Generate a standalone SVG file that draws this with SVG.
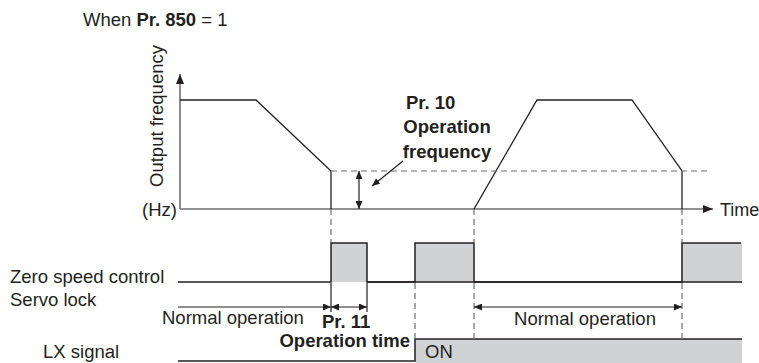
<svg xmlns="http://www.w3.org/2000/svg" width="759" height="363" viewBox="0 0 759 363">
<defs>
<style>
text{font-family:"Liberation Sans",Arial,sans-serif;font-size:18.5px;fill:#231f20}
.b{font-weight:bold}
.ax{stroke:#6d6e70;stroke-width:1.6;fill:none}
.cv{stroke:#231f20;stroke-width:1.3;fill:none}
.ds{stroke:#6d6e70;stroke-width:1.2;stroke-dasharray:6 4;fill:none}
.sg{stroke:#231f20;stroke-width:1.5;fill:none}
.box{fill:#d1d2d4;stroke:none}
.dim{stroke:#231f20;stroke-width:1.2;fill:none}
</style>
<marker id="ah" viewBox="0 0 10 8" refX="10" refY="4" markerWidth="10" markerHeight="8" markerUnits="userSpaceOnUse" orient="auto-start-reverse">
<path d="M0,0 L10,4 L0,8 z" fill="#231f20"/>
</marker>
<marker id="sh" viewBox="0 0 8 7" refX="8" refY="3.5" markerWidth="8" markerHeight="7" markerUnits="userSpaceOnUse" orient="auto-start-reverse">
<path d="M0,0 L8,3.5 L0,7 z" fill="#231f20"/>
</marker>
</defs>

<g id="title"><text x="83" y="26">When <tspan class="b">Pr. 850</tspan> = 1</text></g>

<g id="axes">
<path class="ax" d="M180,209 V74" marker-end="url(#ah)"/>
<path class="ax" d="M180,209 H713" marker-end="url(#ah)"/>
<text transform="translate(163,116) rotate(-90)" text-anchor="middle">Output frequency</text>
<text x="142" y="216">(Hz)</text>
<text x="720" y="216" style="font-size:18px">Time</text>
</g>

<g id="frequency-curve">
<path class="cv" d="M180,100 H256 L331,171 V209"/>
<path class="cv" d="M474,209 L537,100 H632 L682,171 V209"/>
<path class="ds" d="M331,171 H710"/>
</g>

<g id="op-frequency">
<path class="dim" d="M359,171 V209" marker-start="url(#sh)" marker-end="url(#sh)"/>
<path class="dim" d="M403,161 L372,186" marker-end="url(#sh)"/>
<text x="406" y="109" class="b">Pr. 10</text>
<text x="447" y="133" class="b" text-anchor="middle">Operation</text>
<text x="447" y="158" class="b" text-anchor="middle">frequency</text>
</g>

<g id="zero-speed">
<text x="10" y="283">Zero speed control</text>
<text x="10" y="306">Servo lock</text>
<rect class="box" x="331" y="243" width="36" height="39"/>
<rect class="box" x="415" y="243" width="59" height="39"/>
<rect class="box" x="682" y="243" width="60" height="39"/>
<path class="sg" d="M178,282 H331 V243 H367 V282 H415 V243 H474 V282 H682 V243 H741"/>
<path class="sg" d="M367,282 H742"/>
</g>

<g id="lx-signal">
<text x="43" y="358">LX signal</text>
<rect class="box" x="415" y="339" width="327" height="24"/>
<path class="sg" d="M178,361 H415 V339 H742"/>
<text x="425" y="358">ON</text>
</g>

<g id="connectors">
<path class="ds" d="M331,209 V243"/>
<path class="ds" d="M474,209 V243"/>
<path class="ds" d="M682,209 V243"/>
<path class="ds" d="M415,283 V339"/>
<path class="ds" d="M474,283 V339"/>
<path class="ds" d="M682,283 V339"/>
<path class="dim" d="M331,283 V312"/>
<path class="dim" d="M367,283 V312"/>
<path class="dim" d="M178,307 H331" marker-end="url(#sh)"/>
<path class="dim" d="M331,307 H367" marker-start="url(#sh)" marker-end="url(#sh)"/>
<path class="dim" d="M474,307 H682" marker-start="url(#sh)" marker-end="url(#sh)"/>
</g>

<g id="dim-labels">
<text x="162" y="324">Normal operation</text>
<text x="322" y="328" class="b">Pr. 11</text>
<text x="410" y="347" class="b" text-anchor="end">Operation time</text>
<text x="585" y="325" text-anchor="middle">Normal operation</text>
</g>
</svg>
